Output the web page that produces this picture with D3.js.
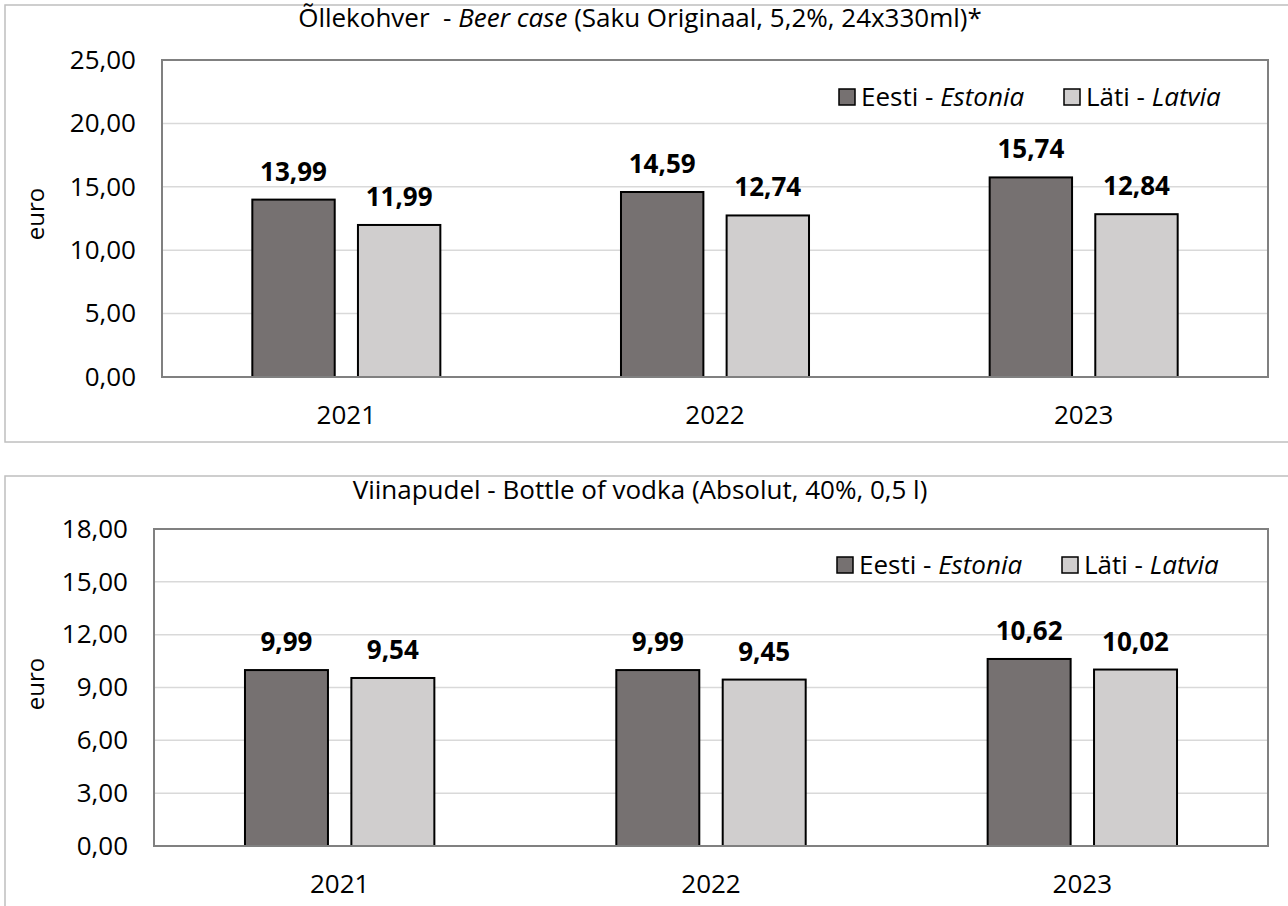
<!DOCTYPE html>
<html>
<head>
<meta charset="utf-8">
<script src="https://cdn.jsdelivr.net/npm/d3@7"></script>
<style>
  body { margin: 0; background: #fff; }
  svg text { font-family: "Open Sans", "Noto Sans", sans-serif; fill: #000; }
</style>
</head>
<body>
<div id="chart"></div>
<script>
// Data
const years = ['2021', '2022', '2023'];
const series = ['Eesti', 'Läti'];
const beerEstonia = [13.99, 14.59, 15.74];
const beerLatvia = [11.99, 12.74, 12.84];
const vodkaEstonia = [9.99, 9.99, 10.62];
const vodkaLatvia = [9.54, 9.45, 10.02];
const beerTicks = [0, 5, 10, 15, 20, 25];
const vodkaTicks = [0, 3, 6, 9, 12, 15, 18];

const colors = { 'Eesti': '#767171', 'Läti': '#d0cece' };
const fmt = v => d3.format('.2f')(v).replace('.', ',');

const svg = d3.select('#chart')
  .append('svg')
  .attr('width', 1288)
  .attr('height', 906);

function drawPanel(cfg) {
  const g = svg.append('g');

  // outer chart frame (runs past the right / bottom edge in the original)
  g.append('rect')
    .attr('x', cfg.box.x).attr('y', cfg.box.y)
    .attr('width', cfg.box.w).attr('height', cfg.box.h)
    .attr('fill', 'none')
    .attr('stroke', '#bfbfbf')
    .attr('stroke-width', 1.5);

  const p = cfg.plot;
  const y = d3.scaleLinear()
    .domain([0, d3.max(cfg.ticks)])
    .range([p.bottom, p.top]);

  const x0 = d3.scaleBand()
    .domain(years)
    .range([p.left, p.right]);

  const bw = x0.bandwidth();
  const x1 = d3.scaleBand()
    .domain(series)
    .range([bw * 0.245, bw * 0.755])
    .paddingInner(0.22);

  // gridlines
  g.append('g')
    .selectAll('line')
    .data(cfg.ticks.slice(1))
    .join('line')
    .attr('x1', p.left).attr('x2', p.right)
    .attr('y1', d => y(d)).attr('y2', d => y(d))
    .attr('stroke', '#d9d9d9')
    .attr('stroke-width', 1.5);

  // y axis tick labels
  const yAxis = d3.axisLeft(y)
    .tickValues(cfg.ticks)
    .tickFormat(fmt)
    .tickSize(0)
    .tickPadding(26);
  const ya = g.append('g')
    .attr('transform', `translate(${p.left},0)`)
    .call(yAxis);
  ya.select('.domain').remove();
  ya.selectAll('text')
    .attr('font-size', 26)
    .attr('fill', '#000');

  // x axis labels
  const xAxis = d3.axisBottom(x0).tickSize(0).tickPadding(29);
  const xa = g.append('g')
    .attr('transform', `translate(0,${p.bottom})`)
    .call(xAxis);
  xa.select('.domain').remove();
  xa.selectAll('text')
    .attr('font-size', 26)
    .attr('fill', '#000');

  // bars
  const rows = years.map((yr, i) => ({
    year: yr,
    vals: [
      { key: 'Eesti', value: cfg.estonia[i] },
      { key: 'Läti', value: cfg.latvia[i] }
    ]
  }));

  const groups = g.append('g')
    .selectAll('g')
    .data(rows)
    .join('g')
    .attr('transform', d => `translate(${x0(d.year)},0)`);

  groups.selectAll('rect')
    .data(d => d.vals)
    .join('rect')
    .attr('x', d => x1(d.key))
    .attr('width', x1.bandwidth())
    .attr('y', d => y(d.value))
    .attr('height', d => y(0) - y(d.value))
    .attr('fill', d => colors[d.key])
    .attr('stroke', '#000')
    .attr('stroke-width', 2);

  groups.selectAll('text.val')
    .data(d => d.vals)
    .join('text')
    .attr('class', 'val')
    .attr('x', d => x1(d.key) + x1.bandwidth() / 2)
    .attr('y', d => y(d.value) - 19)
    .attr('text-anchor', 'middle')
    .attr('font-size', 26)
    .attr('font-weight', 'bold')
    .text(d => fmt(d.value));

  // plot area border
  g.append('rect')
    .attr('x', p.left).attr('y', p.top)
    .attr('width', p.right - p.left)
    .attr('height', p.bottom - p.top)
    .attr('fill', 'none')
    .attr('stroke', '#808080')
    .attr('stroke-width', 2);

  // y label
  g.append('text')
    .attr('transform', `translate(44,${cfg.euroY}) rotate(-90)`)
    .attr('text-anchor', 'middle')
    .attr('font-size', 24)
    .text('euro');

  // title
  const t = g.append('text')
    .attr('x', 640)
    .attr('y', cfg.titleY)
    .attr('text-anchor', 'middle')
    .attr('font-size', 26);
  cfg.title.forEach(part => {
    t.append('tspan')
      .attr('font-style', part.italic ? 'italic' : null)
      .text(part.text);
  });

  // legend
  const leg = g.append('g')
    .attr('transform', `translate(0,${cfg.legendY})`);
  cfg.legend.forEach(item => {
    leg.append('rect')
      .attr('x', item.x).attr('y', -8)
      .attr('width', 16).attr('height', 16)
      .attr('fill', colors[item.key])
      .attr('stroke', '#000')
      .attr('stroke-width', 1.5);
    const lt = leg.append('text')
      .attr('x', item.x + 22)
      .attr('y', 9)
      .attr('font-size', 26);
    lt.append('tspan').text(item.label);
    lt.append('tspan').attr('font-style', 'italic').text(item.italic);
  });
}

drawPanel({
  box: { x: 5, y: 5, w: 1300, h: 437 },
  plot: { left: 162, right: 1268, top: 60, bottom: 377 },
  ticks: beerTicks,
  estonia: beerEstonia,
  latvia: beerLatvia,
  euroY: 214,
  titleY: 27,
  title: [
    { text: 'Õllekohver \u00a0- ' },
    { text: 'Beer case', italic: true },
    { text: ' (Saku Originaal, 5,2%, 24x330ml)*' }
  ],
  legendY: 97,
  legend: [
    { key: 'Eesti', x: 839, label: 'Eesti - ', italic: 'Estonia' },
    { key: 'Läti', x: 1064, label: 'Läti - ', italic: 'Latvia' }
  ]
});

drawPanel({
  box: { x: 5, y: 476, w: 1300, h: 460 },
  plot: { left: 154, right: 1268, top: 529, bottom: 846 },
  ticks: vodkaTicks,
  estonia: vodkaEstonia,
  latvia: vodkaLatvia,
  euroY: 684,
  titleY: 499,
  title: [
    { text: 'Viinapudel - Bottle of vodka (Absolut, 40%, 0,5 l)' }
  ],
  legendY: 565,
  legend: [
    { key: 'Eesti', x: 837, label: 'Eesti - ', italic: 'Estonia' },
    { key: 'Läti', x: 1062, label: 'Läti - ', italic: 'Latvia' }
  ]
});
</script>
</body>
</html>
